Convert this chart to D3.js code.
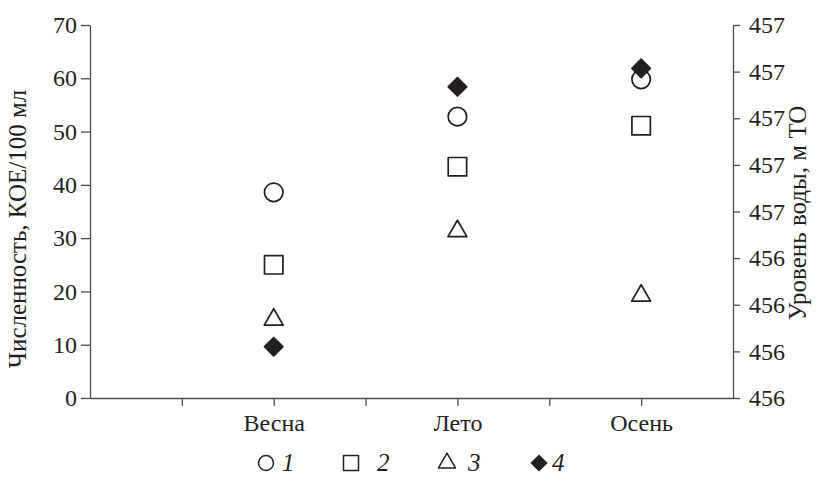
<!DOCTYPE html>
<html>
<head>
<meta charset="utf-8">
<script src="https://cdn.jsdelivr.net/npm/d3@7"></script>
</head>
<body>
<div id="chart"></div>
<script>
const seasons = ['Весна', 'Лето', 'Осень'];
const series1 = [38.6, 52.8, 59.8];
const series2 = [25, 43.4, 51.1];
const series3 = [14.7, 31.3, 19.2];
// series 4 is water level, plotted on the right axis
const series4 = [456.02, 457.135, 457.214];
const leftTicks = [0, 10, 20, 30, 40, 50, 60, 70];
const rightTicks = [455.8, 456, 456.2, 456.4, 456.6, 456.8, 457, 457.2, 457.4];
const xTicks = [0.5, 1, 1.5, 2, 2.5, 3];
const legendLabels = ['1', '2', '3', '4'];

const width = 828, height = 477;
const margin = {top: 25, right: 95, bottom: 79, left: 90};
const ink = '#231f20';
const axisInk = '#4d4d4f';
const fontName = 'Liberation Serif';

d3.select('body').style('margin', '0px');

const svg = d3.select('#chart')
    .append('svg')
    .attr('width', width)
    .attr('height', height)
    .attr('font-family', fontName)
    .style('display', 'block');

const x = d3.scaleLinear()
    .domain([0, 3.5])
    .range([margin.left, width - margin.right]);

const y = d3.scaleLinear()
    .domain([0, 70])
    .range([height - margin.bottom, margin.top]);

const y2 = d3.scaleLinear()
    .domain([455.8, 457.4])
    .range([height - margin.bottom, margin.top]);

// axes
const xAxis = svg.append('g')
    .attr('transform', 'translate(0,' + (height - margin.bottom) + ')')
    .call(d3.axisBottom(x).tickValues(xTicks).tickSize(8).tickSizeOuter(0)
        .tickFormat(d => Number.isInteger(d) ? seasons[d - 1] : ''));

const yAxis = svg.append('g')
    .attr('transform', 'translate(' + margin.left + ',0)')
    .call(d3.axisLeft(y).tickValues(leftTicks).tickSize(9).tickSizeOuter(0).tickPadding(4));

const y2Axis = svg.append('g')
    .attr('transform', 'translate(' + (width - margin.right) + ',0)')
    .call(d3.axisRight(y2).tickValues(rightTicks).tickSize(7).tickSizeOuter(0).tickPadding(9)
        .tickFormat(d3.format('.0f')));

[xAxis, yAxis, y2Axis].forEach(function(g) {
    g.attr('font-family', fontName).attr('font-size', 24);
    g.select('.domain').attr('stroke', axisInk).attr('stroke-width', 1.3);
    g.selectAll('.tick line').attr('stroke', axisInk).attr('stroke-width', 1.3);
    g.selectAll('.tick text').attr('fill', ink);
});
xAxis.selectAll('.tick text').attr('dy', null).attr('y', 33);

// axis titles
const titleLeft = svg.append('text')
    .attr('transform', 'translate(26,229)rotate(-90)')
    .attr('text-anchor', 'middle')
    .attr('fill', ink)
    .text('Численность, КОЕ/100 мл');

const titleRight = svg.append('text')
    .attr('transform', 'translate(806,213)rotate(-90)')
    .attr('text-anchor', 'middle')
    .attr('fill', ink)
    .text('Уровень воды, м ТО');

// points
const symCircle = d3.symbol().type(d3.symbolCircle).size(270);
const symSquare = d3.symbol().type(d3.symbolSquare).size(340);
const symTriangle = d3.symbol().type(d3.symbolTriangle).size(155);
const symDiamond = d3.symbol().type(d3.symbolSquare).size(170);

function drawPoints(values, scale, sym, filled, rot) {
    svg.append('g')
        .selectAll('path')
        .data(values)
        .enter()
        .append('path')
        .attr('d', sym)
        .attr('transform', (d, i) => 'translate(' + x(i + 1) + ',' + scale(d) + ')' + (rot ? 'rotate(45)' : ''))
        .attr('fill', filled ? ink : 'none')
        .attr('stroke', ink)
        .attr('stroke-width', 1.7)
        .attr('stroke-linejoin', 'round');
}

drawPoints(series1, y, symCircle, false, false);
drawPoints(series2, y, symSquare, false, false);
drawPoints(series3, y, symTriangle, false, false);
drawPoints(series4, y2, symDiamond, true, true);

// legend
const legendSyms = [
    d3.symbol().type(d3.symbolCircle).size(175),
    d3.symbol().type(d3.symbolSquare).size(225),
    d3.symbol().type(d3.symbolTriangle).size(125),
    d3.symbol().type(d3.symbolSquare).size(115)
];
const legendX = [266, 351, 447, 539];
const legendGap = [16, 26, 21, 13];
const legendY = 463;

const legend = svg.append('g');
legendLabels.forEach(function(lab, i) {
    legend.append('path')
        .attr('d', legendSyms[i])
        .attr('transform', 'translate(' + legendX[i] + ',' + legendY + ')' + (i === 3 ? 'rotate(45)' : ''))
        .attr('fill', i === 3 ? ink : 'none')
        .attr('stroke', ink)
        .attr('stroke-width', 1.5)
        .attr('stroke-linejoin', 'round');
    legend.append('text')
        .attr('x', legendX[i] + legendGap[i])
        .attr('y', legendY + 8)
        .attr('font-style', 'italic')
        .attr('fill', ink)
        .text(lab);
});

// same face on every label
svg.selectAll('text')
    .attr('font-family', fontName)
    .style('font-family', '"Liberation Serif", "Times New Roman", serif', 'important')
    .style('font-size', '24px');
titleLeft.style('font-size', '25px');
titleRight.style('font-size', '25px');
legend.selectAll('text').style('font-size', '25px');
</script>
</body>
</html>
